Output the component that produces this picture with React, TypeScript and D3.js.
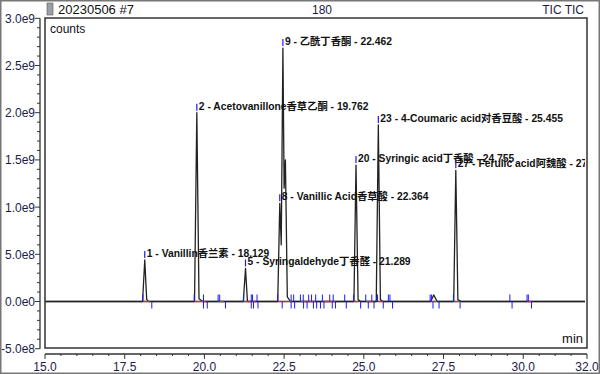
import { useRef, useEffect } from "react";
import * as d3 from "d3";

// ---- data ----
const xTicks = [15.0, 17.5, 20.0, 22.5, 25.0, 27.5, 30.0, 32.0];
const yTicks = [-5e8, 0, 5e8, 1e9, 1.5e9, 2e9, 2.5e9, 3e9];
const yTickLabels = ["-5.0e8", "0.0e0", "5.0e8", "1.0e9", "1.5e9", "2.0e9", "2.5e9", "3.0e9"];

// TIC trace as [time (min), counts]
const trace: [number, number][] = [
  [15.0, 0], [18.06, 0], [18.129, 4.4e8], [18.19, 2e7], [18.25, 0],
  [19.69, 0], [19.762, 2.0e9], [19.83, 3e7], [19.95, 0],
  [21.22, 0], [21.289, 3.5e8], [21.35, 0],
  [22.30, 0], [22.364, 1.04e9], [22.41, 6e8], [22.462, 2.685e9], [22.50, 1.2e9],
  [22.54, 1.5e9], [22.60, 5e7], [22.70, 0],
  [24.69, 0], [24.755, 1.445e9], [24.82, 2e7], [24.9, 0],
  [25.39, 0], [25.455, 1.87e9], [25.52, 2e7], [25.6, 0],
  [27.10, 0], [27.19, 7e7], [27.30, 0],
  [27.82, 0], [27.885, 1.39e9], [27.95, 2e7], [28.05, 0],
  [32.0, 0],
];

const peakTimes = [18.129, 19.762, 21.289, 22.364, 22.462, 24.755, 25.455, 27.885];
const peakHeights = [4.4e8, 2.0e9, 3.5e8, 1.04e9, 2.685e9, 1.445e9, 1.87e9, 1.39e9];
const peakNames = [
  "1 - Vanillin香兰素 - 18.129",
  "2 - Acetovanillone香草乙酮 - 19.762",
  "5 - Syringaldehyde丁香醛 - 21.289",
  "8 - Vanillic Acid香草酸 - 22.364",
  "9 - 乙酰丁香酮 - 22.462",
  "20 - Syringic acid丁香酸 - 24.755",
  "23 - 4-Coumaric acid对香豆酸 - 25.455",
  "27 - Ferulic acid阿魏酸 - 27.885",
];

// integration start / end markers
const startMarks = [
  18.07, 19.68, 19.97, 20.43, 20.48, 21.23, 21.47, 21.51, 21.65, 22.30, 22.72, 22.80,
  23.01, 23.10, 23.27, 23.36, 23.49, 23.70, 23.93, 24.04, 24.40, 24.68, 25.06, 25.25,
  25.43, 25.77, 25.82, 27.08, 27.12, 27.81, 29.58, 30.12, 30.16,
];
const endMarks = [
  18.35, 19.97, 20.09, 20.66, 21.47, 21.54, 21.68, 22.44, 22.72, 22.83, 23.11, 23.22,
  23.42, 23.52, 23.64, 23.75, 24.01, 24.11, 24.45, 24.90, 25.14, 25.32, 25.61, 25.90,
  27.17, 27.36, 28.02, 29.65, 30.26,
];
const baselineSegs: [number, number][] = [
  [18.07, 18.3], [19.68, 20.05], [20.43, 20.6], [21.23, 21.6], [22.3, 22.75],
  [23.0, 23.5], [23.7, 24.1], [24.68, 24.85], [25.06, 25.3], [25.43, 25.6],
  [27.08, 27.3], [27.81, 27.98], [30.12, 30.25],
];

export default function App() {
  const ref = useRef<SVGSVGElement>(null);

  useEffect(() => {
    document.body.style.margin = "0";
    const width = 600;
    const height = 374;
    const box = { left: 45, right: 587, top: 18, bottom: 348 };

    const svg = d3.select(ref.current);
    svg.selectAll("*").remove();
    svg.attr("width", width).attr("height", height);

    svg.append("rect").attr("width", width).attr("height", height).attr("fill", "#fff");

    const x = d3.scaleLinear().domain([15, 32]).range([box.left, box.right]);
    const y = d3.scaleLinear().domain([-5e8, 3e9]).range([348.7, 18.3]);

    const font = "'Liberation Sans', Arial, 'Noto Sans CJK SC', sans-serif";
    const navy = "#1c1c48";

    // ---- header ----
    svg.append("rect").attr("x", 47).attr("y", 3).attr("width", 6).attr("height", 12)
      .attr("fill", "#9aa0a6").attr("stroke", "#555").attr("stroke-width", 0.6);
    svg.append("text").attr("x", 58).attr("y", 14).attr("font-family", font)
      .attr("font-size", 13).attr("fill", "#111").text("20230506 #7");
    svg.append("text").attr("x", 322).attr("y", 14).attr("text-anchor", "middle")
      .attr("font-family", font).attr("font-size", 12).attr("fill", navy).text("180");
    svg.append("text").attr("x", 584).attr("y", 14).attr("text-anchor", "end")
      .attr("font-family", font).attr("font-size", 12).attr("fill", navy).text("TIC TIC");

    // ---- y axis (detached to the left of the frame) ----
    const yAxis = svg.append("g").attr("transform", "translate(40,0)");
    yAxis.append("line").attr("y1", y(3e9)).attr("y2", y(-5e8)).attr("stroke", "#333").attr("stroke-width", 1.3);
    d3.range(-5e8, 3e9 + 1, 1e8).forEach((v) => {
      const major = Math.abs(v % 5e8) < 1;
      yAxis.append("line").attr("x1", major ? -5 : -3).attr("x2", 0)
        .attr("y1", y(v)).attr("y2", y(v)).attr("stroke", "#333").attr("stroke-width", 1);
    });
    yTicks.forEach((v, i) => {
      yAxis.append("text").attr("x", -5).attr("y", y(v) + 4.5).attr("text-anchor", "end")
        .attr("font-family", font).attr("font-size", 12).attr("fill", navy).text(yTickLabels[i]);
    });

    // ---- x axis (detached below the frame) ----
    const xAxis = svg.append("g").attr("transform", "translate(0,354)");
    xAxis.append("line").attr("x1", x(15)).attr("x2", x(32)).attr("stroke", "#333").attr("stroke-width", 1.3);
    d3.range(15, 32.01, 0.5).forEach((v) => {
      const major = xTicks.includes(v);
      xAxis.append("line").attr("x1", x(v)).attr("x2", x(v)).attr("y1", 0).attr("y2", major ? 5 : 2)
        .attr("stroke", "#333").attr("stroke-width", 1);
    });
    xTicks.forEach((v) => {
      xAxis.append("text").attr("x", x(v)).attr("y", 17).attr("text-anchor", "middle")
        .attr("font-family", font).attr("font-size", 12).attr("fill", navy).text(v.toFixed(1));
    });

    // ---- plot frame ----
    svg.append("defs").append("clipPath").attr("id", "plotclip").append("rect")
      .attr("x", box.left).attr("y", box.top).attr("width", box.right - box.left - 2)
      .attr("height", box.bottom - box.top);

    const plot = svg.append("g").attr("clip-path", "url(#plotclip)");

    plot.append("text").attr("x", 50).attr("y", 33).attr("font-family", font)
      .attr("font-size", 12).attr("fill", "#111").text("counts");
    plot.append("text").attr("x", 583).attr("y", 343).attr("text-anchor", "end")
      .attr("font-family", font).attr("font-size", 13).attr("fill", "#111").text("min");

    // baseline at zero
    plot.append("line").attr("x1", box.left).attr("x2", box.right).attr("y1", y(0)).attr("y2", y(0))
      .attr("stroke", "#666").attr("stroke-width", 1.5);

    // trace
    const line = d3.line<[number, number]>().x((d) => x(d[0])).y((d) => y(d[1]));
    plot.append("path").datum(trace).attr("d", line).attr("fill", "none")
      .attr("stroke", "#222").attr("stroke-width", 1.3).attr("stroke-linejoin", "round");

    // integration baselines
    baselineSegs.forEach(([a, b]) => {
      plot.append("line").attr("x1", x(a)).attr("x2", x(b)).attr("y1", y(0)).attr("y2", y(0))
        .attr("stroke", "#f0202a").attr("stroke-width", 1.3);
    });

    // start / end markers
    startMarks.forEach((t) => {
      plot.append("line").attr("x1", x(t)).attr("x2", x(t)).attr("y1", y(0) - 7).attr("y2", y(0))
        .attr("stroke", "#1a1aff").attr("stroke-width", 1);
    });
    endMarks.forEach((t) => {
      plot.append("line").attr("x1", x(t)).attr("x2", x(t)).attr("y1", y(0)).attr("y2", y(0) + 7)
        .attr("stroke", "#1a1aff").attr("stroke-width", 1);
    });

    // peak labels
    peakTimes.forEach((t, i) => {
      const px = x(t);
      const py = y(peakHeights[i]);
      plot.append("line").attr("x1", px).attr("x2", px).attr("y1", py - 9).attr("y2", py - 2)
        .attr("stroke", "#1a1aff").attr("stroke-width", 1.2);
      plot.append("text").attr("x", px + 2).attr("y", py - 3)
        .attr("font-family", font).attr("font-size", 10.3).attr("font-weight", "bold")
        .attr("fill", "#111").text(peakNames[i]);
    });

    svg.append("rect").attr("x", box.left).attr("y", box.top)
      .attr("width", box.right - box.left).attr("height", box.bottom - box.top)
      .attr("fill", "none").attr("stroke", "#333").attr("stroke-width", 1.5);

    // outer image frame
    svg.append("rect").attr("x", 0.75).attr("y", 0.75).attr("width", width - 1.5).attr("height", height - 1.5)
      .attr("fill", "none").attr("stroke", "#777").attr("stroke-width", 1.5);
  }, []);

  return <svg ref={ref} style={{ display: "block" }} />;
}
